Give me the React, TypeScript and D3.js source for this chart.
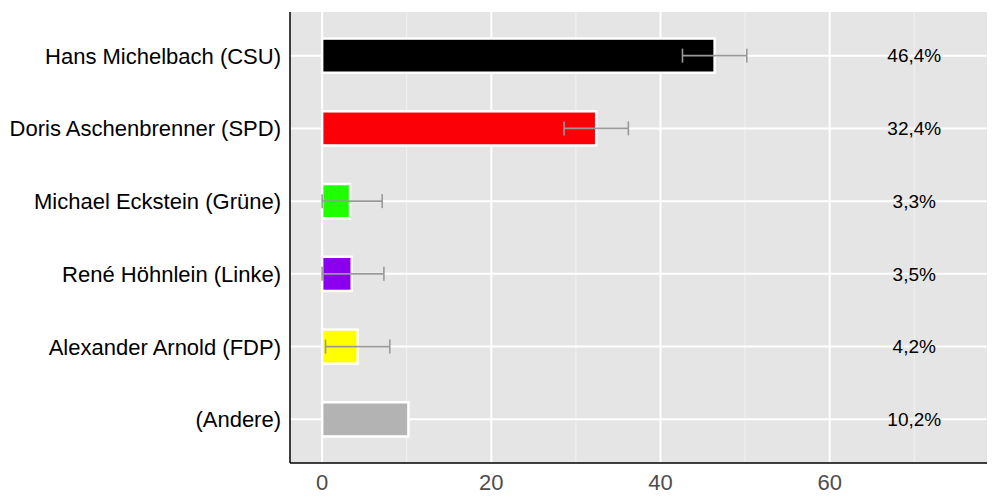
import { scaleLinear, scalePoint } from 'd3';

const CANDIDATES = [
  'Hans Michelbach (CSU)',
  'Doris Aschenbrenner (SPD)',
  'Michael Eckstein (Grüne)',
  'René Höhnlein (Linke)',
  'Alexander Arnold (FDP)',
  '(Andere)',
];
const SHARES = [46.4, 32.4, 3.3, 3.5, 4.2, 10.2];
const ERR_LOW = [42.6, 28.6, 0, 0, 0.4, null];
const ERR_HIGH = [50.2, 36.2, 7.1, 7.3, 8.0, null];
const LABELS = ['46,4%', '32,4%', '3,3%', '3,5%', '4,2%', '10,2%'];
const COLORS = ['#000000', '#fb0007', '#1eff00', '#8a00ee', '#ffff00', '#b3b3b3'];
const MAJOR_TICKS = [0, 20, 40, 60];
const MINOR_TICKS = [10, 30, 50, 70];
const LABEL_AT = 70;

const W = 1000;
const H = 500;
const P = { left: 290, right: 987, top: 12, bottom: 463 };
const FONT = '"Liberation Sans", Arial, Helvetica, sans-serif';

export default function App() {
  const x = scaleLinear().domain([-3.8, 78.6]).range([P.left, P.right]);
  const y = scalePoint<string>().domain(CANDIDATES).range([P.top, P.bottom]).padding(0.6);
  const barH = y.step() * 0.47;
  const capH = 14;

  return (
    <svg
      width={W}
      height={H}
      style={{ position: 'absolute', left: 0, top: 0, background: '#fff' }}
      fontFamily={FONT}
    >
      <rect x={P.left} y={P.top} width={P.right - P.left} height={P.bottom - P.top} fill="#e5e5e5" />

      {/* grid */}
      {MINOR_TICKS.map((t) => (
        <line key={'mn' + t} x1={x(t)} x2={x(t)} y1={P.top} y2={P.bottom} stroke="#f2f2f2" strokeWidth={1} />
      ))}
      {MAJOR_TICKS.map((t) => (
        <line key={'mj' + t} x1={x(t)} x2={x(t)} y1={P.top} y2={P.bottom} stroke="#fff" strokeWidth={2} />
      ))}
      {CANDIDATES.map((c) => (
        <line key={'h' + c} x1={P.left} x2={P.right} y1={y(c)} y2={y(c)} stroke="#fff" strokeWidth={2} />
      ))}

      {/* bars */}
      {CANDIDATES.map((c, i) => (
        <rect
          key={'b' + c}
          x={x(0)}
          y={y(c)! - barH / 2}
          width={x(SHARES[i]) - x(0)}
          height={barH}
          fill={COLORS[i]}
          stroke="#fff"
          strokeWidth={2.5}
        />
      ))}

      {/* error bars */}
      {CANDIDATES.map((c, i) => {
        const lo = ERR_LOW[i];
        const hi = ERR_HIGH[i];
        if (lo === null || hi === null) return null;
        const cy = y(c)!;
        return (
          <g key={'e' + c} stroke="#999" strokeWidth={1.6}>
            <line x1={x(lo)} x2={x(hi)} y1={cy} y2={cy} />
            <line x1={x(lo)} x2={x(lo)} y1={cy - capH / 2} y2={cy + capH / 2} />
            <line x1={x(hi)} x2={x(hi)} y1={cy - capH / 2} y2={cy + capH / 2} />
          </g>
        );
      })}

      {/* value labels */}
      {CANDIDATES.map((c, i) => (
        <text
          key={'v' + c}
          x={x(LABEL_AT)}
          y={y(c)}
          dy="0.36em"
          textAnchor="middle"
          fontSize={19}
          fill="#000"
        >
          {LABELS[i]}
        </text>
      ))}

      {/* axes */}
      <line x1={P.left} x2={P.left} y1={P.top} y2={P.bottom} stroke="#000" strokeWidth={1.5} />
      <line x1={P.left} x2={P.right} y1={P.bottom} y2={P.bottom} stroke="#000" strokeWidth={1.5} />

      {CANDIDATES.map((c) => (
        <text key={'y' + c} x={P.left - 9} y={y(c)} dy="0.36em" textAnchor="end" fontSize={22} fill="#000">
          {c}
        </text>
      ))}
      {MAJOR_TICKS.map((t) => (
        <text key={'x' + t} x={x(t)} y={P.bottom + 27} textAnchor="middle" fontSize={22} fill="#4d4d4d">
          {t}
        </text>
      ))}
    </svg>
  );
}
